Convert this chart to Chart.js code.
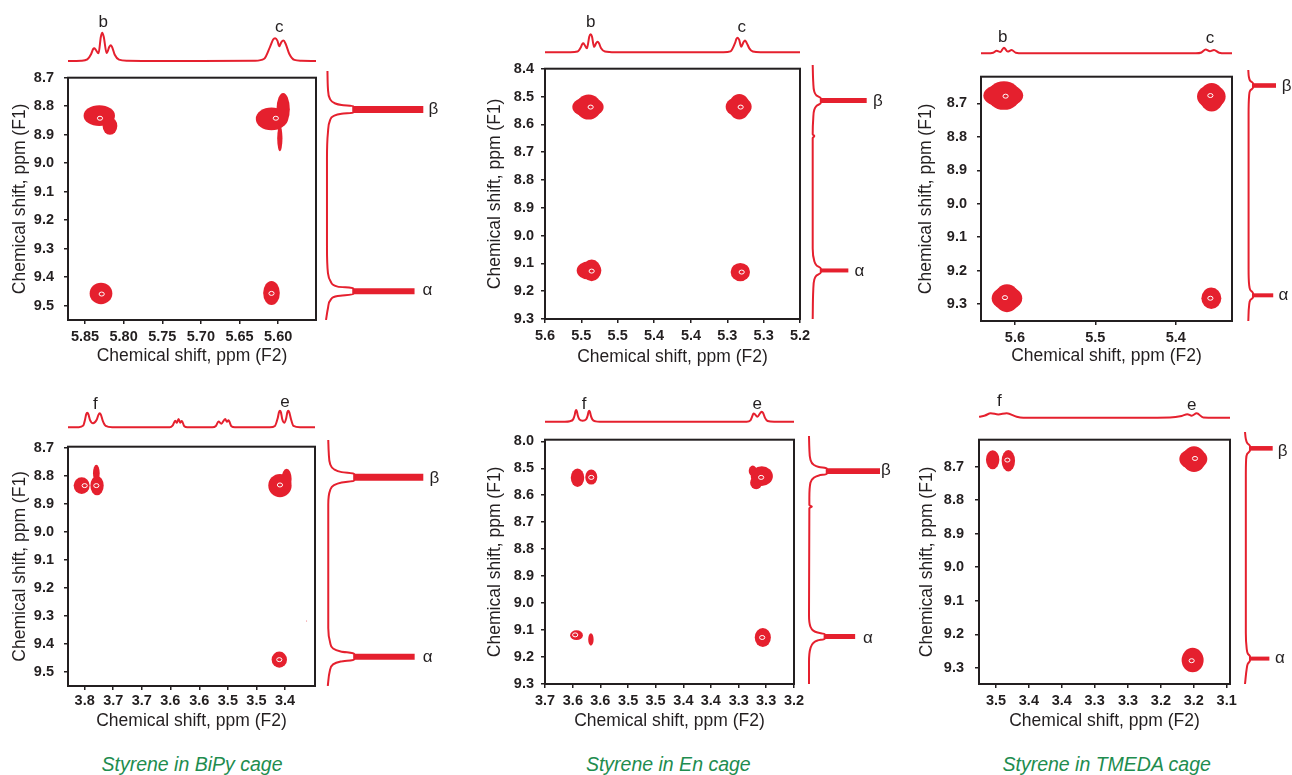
<!DOCTYPE html>
<html><head><meta charset="utf-8">
<script src="https://cdn.jsdelivr.net/npm/chart.js@4"></script>
<style>
html,body{margin:0;padding:0;background:#fff;width:1292px;height:775px;overflow:hidden;position:relative;font-family:'Liberation Sans',Arial,sans-serif;}
canvas{position:absolute;}
.lbl{position:absolute;transform:translate(-50%,-50%);font-size:17px;color:#231f20;white-space:nowrap;line-height:1;}
.cap{position:absolute;transform:translate(-50%,-50%);font-size:19.5px;font-style:italic;color:#218c4e;white-space:nowrap;line-height:1;}
</style></head><body>
<script>
// ---------------- DATA (ppm values) ----------------
const captions = ['Styrene in BiPy cage', 'Styrene in En cage', 'Styrene in TMEDA cage'];
const xTitle = 'Chemical shift, ppm (F2)';
const yTitle = 'Chemical shift, ppm (F1)';

// Panel 1 : BiPy, vinyl b/c
const p1XTicks = [5.85, 5.80, 5.75, 5.70, 5.65, 5.60];
const p1XLabels = ['5.85', '5.80', '5.75', '5.70', '5.65', '5.60'];
const p1YTicks = [8.7, 8.8, 8.9, 9.0, 9.1, 9.2, 9.3, 9.4, 9.5];
const p1YLabels = ['8.7', '8.8', '8.9', '9.0', '9.1', '9.2', '9.3', '9.4', '9.5'];
const p1XRange = [5.551, 5.872];
const p1YRange = [8.7, 9.55];
const p1Peaks = ['b', 'c', 'β', 'α'];
const p1Blobs = [[5.8315, 8.8331, 0.0203, 0.0364], [5.8177, 8.8696, 0.0095, 0.0307],
  [5.6086, 8.8445, 0.0203, 0.0398], [5.5935, 8.8104, 0.0086, 0.0569], [5.5978, 8.9128, 0.0034, 0.0455],
  [5.8293, 9.4568, 0.0147, 0.0376], [5.6086, 9.4556, 0.0108, 0.0421]];
const p1Cores = [[5.8306, 8.8422], [5.6030, 8.8422], [5.8284, 9.4590], [5.6086, 9.4567]];
const p1Top = [[5.872, 0], [5.855, 0.01], [5.847, 0.06], [5.842, 0.25], [5.8395, 0.42], [5.838, 0.45],
  [5.8362, 0.4], [5.8325, 0.27], [5.8295, 0.85], [5.8276, 1.0], [5.8257, 0.85], [5.822, 0.28], [5.8185, 0.5],
  [5.8168, 0.56], [5.815, 0.5], [5.8115, 0.22], [5.806, 0.05], [5.795, 0.01], [5.75, 0], [5.70, 0],
  [5.63, 0.01], [5.618, 0.08], [5.6105, 0.5], [5.6065, 0.76], [5.6039, 0.8], [5.601, 0.72], [5.5985, 0.52],
  [5.596, 0.66], [5.5931, 0.72], [5.5902, 0.6], [5.5855, 0.25], [5.579, 0.04], [5.57, 0.01], [5.551, 0]];
const p1Side = [[8.70, 0.015], [8.76, 0.02], [8.795, 0.04], [8.81, 0.09], [8.816, 0.16], [8.8195, 0.28],
  [8.8425, 0.28], [8.846, 0.16], [8.853, 0.08], [8.87, 0.04], [8.91, 0.02], [9.0, 0.01], [9.30, 0.01],
  [9.39, 0.02], [9.42, 0.05], [9.436, 0.12], [9.4415, 0.28], [9.4625, 0.28], [9.468, 0.12], [9.48, 0.05],
  [9.51, 0.02], [9.55, 0.0]];
const p1Bands = [[8.831, 0.28, 1.0], [9.452, 0.28, 0.91]];

// Panel 2 : En, vinyl b/c
const p2XTicks = [5.6, 5.543, 5.486, 5.429, 5.371, 5.314, 5.257, 5.2];
const p2XLabels = ['5.6', '5.5', '5.5', '5.4', '5.4', '5.3', '5.3', '5.2'];
const p2YTicks = [8.4, 8.5, 8.6, 8.7, 8.8, 8.9, 9.0, 9.1, 9.2, 9.3];
const p2YLabels = ['8.4', '8.5', '8.6', '8.7', '8.8', '8.9', '9.0', '9.1', '9.2', '9.3'];
const p2XRange = [5.2, 5.6];
const p2YRange = [8.4, 9.3];
const p2Peaks = ['b', 'c', 'β', 'α'];
const p2Blobs = [[5.5326, 8.538, 0.0246, 0.0354], [5.5316, 8.538, 0.0199, 0.0448],
  [5.2962, 8.5368, 0.0204, 0.0354], [5.2952, 8.5368, 0.0167, 0.046],
  [5.531, 9.1254, 0.0193, 0.033], [5.5268, 9.1254, 0.0146, 0.0389],
  [5.2936, 9.1313, 0.0152, 0.033]];
const p2Cores = [[5.5284, 8.538], [5.2931, 8.538], [5.5268, 9.1278], [5.2915, 9.1313]];
const p2Top = [[5.6, 0], [5.56, 0], [5.549, 0.04], [5.5435, 0.3], [5.5417, 0.45], [5.5399, 0.5], [5.538, 0.42],
  [5.5342, 0.22], [5.5305, 0.88], [5.5284, 1.0], [5.5263, 0.88], [5.5231, 0.3], [5.5195, 0.52], [5.5174, 0.59],
  [5.5153, 0.5], [5.512, 0.22], [5.506, 0.04], [5.49, 0], [5.32, 0], [5.309, 0.05], [5.3015, 0.55],
  [5.2998, 0.74], [5.2978, 0.81], [5.2955, 0.7], [5.2921, 0.31], [5.2885, 0.57], [5.2863, 0.65],
  [5.284, 0.55], [5.2795, 0.22], [5.274, 0.04], [5.262, 0], [5.2, 0]];
const p2Side = [[8.40, 0], [8.46, 0.01], [8.495, 0.03], [8.508, 0.07], [8.5174, 0.15], [8.535, 0.15],
  [8.545, 0.07], [8.558, 0.03], [8.59, 0.01], [8.645, 0.0], [8.652, 0.03], [8.659, 0.0], [9.05, 0],
  [9.095, 0.03], [9.11, 0.07], [9.121, 0.15], [9.135, 0.15], [9.146, 0.07], [9.16, 0.03], [9.20, 0.01], [9.30, 0]];
const p2Bands = [[8.5262, 0.15, 1.0], [9.128, 0.15, 0.66]];

// Panel 3 : TMEDA, vinyl b/c
const p3XTicks = [5.6, 5.5, 5.4];
const p3XLabels = ['5.6', '5.5', '5.4'];
const p3YTicks = [8.7, 8.8, 8.9, 9.0, 9.1, 9.2, 9.3];
const p3YLabels = ['8.7', '8.8', '8.9', '9.0', '9.1', '9.2', '9.3'];
const p3XRange = [5.33, 5.6422];
const p3YRange = [8.6204, 9.3505];
const p3Peaks = ['b', 'c', 'β', 'α'];
const p3Blobs = [[5.6145, 8.6767, 0.0248, 0.035], [5.6137, 8.6767, 0.0207, 0.0427],
  [5.3557, 8.6796, 0.0178, 0.035], [5.3553, 8.6816, 0.0149, 0.0427],
  [5.6099, 9.2825, 0.019, 0.035], [5.6099, 9.2825, 0.0157, 0.0417],
  [5.3557, 9.2825, 0.0124, 0.032]];
const p3Cores = [[5.6116, 8.6786], [5.3569, 8.6767], [5.6124, 9.2806], [5.3569, 9.2825]];
const p3Top = [[5.6422, 0], [5.635, 0], [5.627, 0.1], [5.6228, 0.47], [5.618, 0.25], [5.6137, 1.0],
  [5.609, 0.3], [5.6041, 0.59], [5.599, 0.1], [5.59, 0], [5.375, 0], [5.368, 0.15], [5.3627, 0.7],
  [5.3575, 0.35], [5.3524, 0.6], [5.346, 0.1], [5.338, 0], [5.33, 0]];
const p3Side = [[8.6204, 0.0], [8.64, 0.02], [8.652, 0.07], [8.6588, 0.17], [8.6722, 0.17], [8.68, 0.07],
  [8.695, 0.03], [8.75, 0.01], [9.20, 0.01], [9.245, 0.03], [9.26, 0.07], [9.2700, 0.17], [9.2817, 0.17],
  [9.29, 0.07], [9.305, 0.03], [9.3505, 0.0]];
const p3Bands = [[8.6655, 0.17, 1.0], [9.2758, 0.17, 0.9]];

// Panel 4 : BiPy, methylene e/f
const p4XTicks = [3.8, 3.743, 3.686, 3.629, 3.571, 3.514, 3.457, 3.4];
const p4XLabels = ['3.8', '3.7', '3.7', '3.6', '3.6', '3.5', '3.5', '3.4'];
const p4YTicks = [8.7, 8.8, 8.9, 9.0, 9.1, 9.2, 9.3, 9.4, 9.5];
const p4YLabels = ['8.7', '8.8', '8.9', '9.0', '9.1', '9.2', '9.3', '9.4', '9.5'];
const p4XRange = [3.34, 3.8333];
const p4YRange = [8.6965, 9.55];
const p4Peaks = ['f', 'e', 'β', 'α'];
const p4Blobs = [[3.806, 8.8353, 0.016, 0.030], [3.7753, 8.8353, 0.0133, 0.0347], [3.7767, 8.7913, 0.0067, 0.030],
  [3.41, 8.8353, 0.0233, 0.0416], [3.3967, 8.8121, 0.01, 0.037],
  [3.4113, 9.456, 0.0153, 0.0289], [3.3567, 9.3185, 0.001, 0.0017]];
const p4Cores = [[3.80, 8.8353], [3.7767, 8.8353], [3.41, 8.833], [3.4113, 9.456]];
const p4Top = [[3.8333, 0], [3.812, 0.01], [3.803, 0.1], [3.799, 0.5], [3.797, 0.78], [3.7947, 0.88],
  [3.7925, 0.78], [3.7895, 0.45], [3.7833, 0.24], [3.776, 0.45], [3.7725, 0.75], [3.770, 0.84], [3.7675, 0.75],
  [3.764, 0.4], [3.758, 0.08], [3.745, 0], [3.63, 0], [3.6245, 0.1], [3.619, 0.4], [3.616, 0.27],
  [3.6125, 0.5], [3.609, 0.28], [3.606, 0.38], [3.601, 0.06], [3.595, 0], [3.545, 0], [3.538, 0.08],
  [3.5327, 0.35], [3.527, 0.22], [3.5193, 0.5], [3.516, 0.33], [3.5127, 0.42], [3.507, 0.06], [3.50, 0],
  [3.43, 0], [3.42, 0.08], [3.4145, 0.55], [3.412, 0.9], [3.41, 1.0], [3.408, 0.9], [3.4055, 0.5],
  [3.4015, 0.28], [3.3975, 0.55], [3.3953, 0.9], [3.3933, 1.0], [3.3913, 0.9], [3.388, 0.5], [3.383, 0.08],
  [3.37, 0], [3.34, 0]];
const p4Side = [[8.6965, 0.01], [8.74, 0.015], [8.78, 0.03], [8.798, 0.07], [8.808, 0.15], [8.8138, 0.28],
  [8.838, 0.28], [8.844, 0.15], [8.853, 0.07], [8.87, 0.03], [8.92, 0.01], [9.35, 0.01], [9.40, 0.03],
  [9.42, 0.06], [9.43, 0.14], [9.4377, 0.28], [9.4585, 0.28], [9.465, 0.14], [9.475, 0.06], [9.50, 0.025],
  [9.55, 0.005]];
const p4Bands = [[8.8259, 0.28, 1.0], [9.4481, 0.28, 0.91]];

// Panel 5 : En, methylene e/f
const p5XTicks = [3.7, 3.644, 3.589, 3.533, 3.478, 3.422, 3.367, 3.311, 3.256, 3.2];
const p5XLabels = ['3.7', '3.6', '3.6', '3.5', '3.5', '3.4', '3.4', '3.3', '3.3', '3.2'];
const p5YTicks = [8.4, 8.5, 8.6, 8.7, 8.8, 8.9, 9.0, 9.1, 9.2, 9.3];
const p5YLabels = ['8.0', '8.5', '8.6', '8.7', '8.8', '8.9', '9.0', '9.1', '9.2', '9.3'];
const p5XRange = [3.2, 3.7];
const p5YRange = [8.394, 9.3];
const p5Peaks = ['f', 'e', 'β', 'α'];
const p5Blobs = [[3.6347, 8.535, 0.0135, 0.034], [3.6071, 8.5326, 0.0121, 0.028],
  [3.2646, 8.529, 0.0222, 0.0365], [3.276, 8.5533, 0.0121, 0.0243], [3.2828, 8.5095, 0.0081, 0.0195],
  [3.6367, 9.119, 0.0128, 0.0182], [3.6078, 9.1348, 0.0054, 0.0231], [3.2626, 9.1275, 0.0162, 0.0353]];
const p5Cores = [[3.6071, 8.5338], [3.266, 8.5338], [3.6394, 9.1178], [3.2639, 9.1275]];
const p5Top = [[3.7, 0], [3.66, 0], [3.65, 0.04], [3.6435, 0.2], [3.6405, 0.55], [3.6388, 0.9], [3.6374, 1.0],
  [3.636, 0.9], [3.6343, 0.55], [3.631, 0.2], [3.6243, 0.09], [3.6175, 0.2], [3.6143, 0.52], [3.6126, 0.85],
  [3.6112, 0.94], [3.6098, 0.85], [3.608, 0.52], [3.605, 0.2], [3.598, 0.03], [3.59, 0], [3.295, 0],
  [3.2875, 0.12], [3.2835, 0.5], [3.282, 0.66], [3.2807, 0.71], [3.279, 0.65], [3.2735, 0.43], [3.2675, 0.75],
  [3.2646, 0.86], [3.262, 0.75], [3.2585, 0.35], [3.253, 0.06], [3.24, 0], [3.2, 0]];
const p5Side = [[8.394, 0], [8.44, 0.005], [8.48, 0.02], [8.50, 0.07], [8.507, 0.14], [8.512, 0.25],
  [8.533, 0.25], [8.538, 0.14], [8.546, 0.07], [8.565, 0.02], [8.62, 0.005], [8.646, 0.005], [8.652, 0.04],
  [8.658, 0.005], [9.05, 0], [9.09, 0.02], [9.105, 0.06], [9.112, 0.12], [9.1175, 0.22], [9.1355, 0.22],
  [9.141, 0.12], [9.15, 0.06], [9.17, 0.02], [9.22, 0], [9.30, 0]];
const p5Bands = [[8.5225, 0.25, 1.0], [9.1265, 0.22, 0.65]];

// Panel 6 : TMEDA, methylene e/f
const p6XTicks = [3.5, 3.443, 3.386, 3.329, 3.271, 3.214, 3.157, 3.1];
const p6XLabels = ['3.5', '3.4', '3.4', '3.3', '3.3', '3.2', '3.2', '3.1'];
const p6YTicks = [8.7, 8.8, 8.9, 9.0, 9.1, 9.2, 9.3];
const p6YLabels = ['8.7', '8.8', '8.9', '9.0', '9.1', '9.2', '9.3'];
const p6XRange = [3.0942, 3.5295];
const p6YRange = [8.62, 9.348];
const p6Peaks = ['f', 'e', 'β', 'α'];
const p6Blobs = [[3.5058, 8.6797, 0.0116, 0.028], [3.4786, 8.6826, 0.0116, 0.0318],
  [3.1578, 8.6778, 0.0243, 0.0309], [3.1566, 8.6778, 0.0202, 0.0386],
  [3.159, 9.2767, 0.0191, 0.0366]];
const p6Cores = [[3.1549, 8.6759], [3.1607, 9.2786], [3.4803, 8.6807]];
const p6Top = [[3.5295, 0.2], [3.5191, 0.5], [3.5092, 1.0], [3.496, 0.75], [3.4815, 1.0], [3.4642, 0.2],
  [3.4526, 0], [3.25, 0], [3.1983, 0.05], [3.178, 0.4], [3.1682, 0.8], [3.1607, 0.45], [3.152, 1.0],
  [3.1405, 0.05], [3.12, 0], [3.0942, 0]];
const p6Side = [[8.62, 0], [8.64, 0.03], [8.652, 0.08], [8.6607, 0.18], [8.6737, 0.18], [8.683, 0.08],
  [8.70, 0.04], [8.75, 0.03], [9.20, 0.03], [9.245, 0.06], [9.26, 0.1], [9.2688, 0.18], [9.2804, 0.18],
  [9.29, 0.1], [9.305, 0.06], [9.348, 0]];
const p6Bands = [[8.6672, 0.18, 1.0], [9.2746, 0.18, 0.88]];

// ---------------- LAYOUT / STYLE (pixel geometry of each panel) ----------------
const RED = '#e5202e';
const INK = '#231f20';
const FAM = "'Liberation Sans', Arial, Helvetica, sans-serif";
const layoutCfg = [
  {l: 68, t: 71, r: 316, b: 320, yTitleX: 20.7, xTitleY: 356.7, yPad: 10, xPad: 4,
   topBase: 61, topPeak: 32.7, sideBase: 326, sideTip: 423.3, bandW: [7, 6],
   peakPos: [[103.3, 20.7], [279.3, 25.7], [433.3, 108.3], [427.3, 289.3]]},
  {l: 545, t: 65, r: 800, b: 319, yTitleX: 495, xTitleY: 357.3, yPad: 7, xPad: 4,
   topBase: 52.3, topPeak: 34.3, sideBase: 812.7, sideTip: 866.7, bandW: [5, 4],
   peakPos: [[590.7, 20.7], [741.7, 25.7], [878, 100], [859.3, 270]]},
  {l: 981, t: 70, r: 1232, b: 321, yTitleX: 926.7, xTitleY: 356.7, yPad: 10, xPad: 4,
   topBase: 53.3, topPeak: 47.7, sideBase: 1248.3, sideTip: 1276, bandW: [4.6, 4],
   peakPos: [[1002.7, 36], [1210, 36.7], [1286.7, 85], [1283.3, 294]]},
  {l: 68, t: 440, r: 315, b: 686, yTitleX: 20, xTitleY: 721.7, yPad: 10, xPad: 2,
   topBase: 427.3, topPeak: 410.7, sideBase: 327.3, sideTip: 423.3, bandW: [7, 6],
   peakPos: [[95.3, 402.7], [285, 400.7], [434.3, 477.3], [427.7, 656]]},
  {l: 545, t: 436, r: 794, b: 684, yTitleX: 495, xTitleY: 721.7, yPad: 7, xPad: 4,
   topBase: 421.7, topPeak: 410, sideBase: 809, sideTip: 880, bandW: [5.7, 5],
   peakPos: [[584, 403.3], [757.3, 402.7], [886, 469], [868, 636.7]]},
  {l: 979, t: 432, r: 1230, b: 684, yTitleX: 927.3, xTitleY: 721.7, yPad: 11, xPad: 4,
   topBase: 417.7, topPeak: 413.3, sideBase: 1245, sideTip: 1272.7, bandW: [4.6, 4],
   peakPos: [[999.3, 400], [1191.7, 404], [1282.7, 450], [1280, 657.3]]}
];
const captionPos = [[192, 765], [668.3, 765], [1106.7, 765]];

const panels = [
  {xt: p1XTicks, xl: p1XLabels, yt: p1YTicks, yl: p1YLabels, xr: p1XRange, yr: p1YRange, pk: p1Peaks, blobs: p1Blobs, cores: p1Cores, top: p1Top, side: p1Side, bands: p1Bands},
  {xt: p2XTicks, xl: p2XLabels, yt: p2YTicks, yl: p2YLabels, xr: p2XRange, yr: p2YRange, pk: p2Peaks, blobs: p2Blobs, cores: p2Cores, top: p2Top, side: p2Side, bands: p2Bands},
  {xt: p3XTicks, xl: p3XLabels, yt: p3YTicks, yl: p3YLabels, xr: p3XRange, yr: p3YRange, pk: p3Peaks, blobs: p3Blobs, cores: p3Cores, top: p3Top, side: p3Side, bands: p3Bands},
  {xt: p4XTicks, xl: p4XLabels, yt: p4YTicks, yl: p4YLabels, xr: p4XRange, yr: p4YRange, pk: p4Peaks, blobs: p4Blobs, cores: p4Cores, top: p4Top, side: p4Side, bands: p4Bands},
  {xt: p5XTicks, xl: p5XLabels, yt: p5YTicks, yl: p5YLabels, xr: p5XRange, yr: p5YRange, pk: p5Peaks, blobs: p5Blobs, cores: p5Cores, top: p5Top, side: p5Side, bands: p5Bands},
  {xt: p6XTicks, xl: p6XLabels, yt: p6YTicks, yl: p6YLabels, xr: p6XRange, yr: p6YRange, pk: p6Peaks, blobs: p6Blobs, cores: p6Cores, top: p6Top, side: p6Side, bands: p6Bands}
];

// ---------------- PLUGINS ----------------
const blobPlugin = {
  id: 'blobs',
  afterDatasetsDraw(chart) {
    const ctx = chart.ctx, xs = chart.scales.x, ys = chart.scales.y;
    chart.data.datasets.forEach((ds, di) => {
      if (!ds._kind) return;
      const meta = chart.getDatasetMeta(di);
      ds.data.forEach((d, i) => {
        const el = meta.data[i];
        ctx.save();
        ctx.beginPath();
        if (ds._kind === 'blob') {
          const rx = Math.abs(xs.getPixelForValue(d.x + d.rx) - el.x);
          const ry = Math.abs(ys.getPixelForValue(d.y + d.ry) - el.y);
          ctx.ellipse(el.x, el.y, rx, ry, 0, 0, Math.PI * 2);
          ctx.fillStyle = RED; ctx.fill();
        } else {
          ctx.ellipse(el.x, el.y, 2.6, 2, 0, 0, Math.PI * 2);
          ctx.strokeStyle = '#ffffff'; ctx.lineWidth = 1; ctx.stroke();
        }
        ctx.restore();
      });
    });
  }
};
const framePlugin = {
  id: 'frame',
  afterDraw(chart) {
    const a = chart.chartArea, ctx = chart.ctx;
    ctx.save(); ctx.strokeStyle = INK; ctx.lineWidth = 2;
    ctx.strokeRect(a.left, a.top, a.right - a.left, a.bottom - a.top);
    ctx.restore();
  }
};

function makeCtx(left, top, w, h) {
  const c = document.createElement('canvas');
  c.width = Math.round(w); c.height = Math.round(h);
  c.style.left = Math.round(left) + 'px'; c.style.top = Math.round(top) + 'px';
  c.style.width = c.width + 'px'; c.style.height = c.height + 'px';
  document.body.appendChild(c);
  return c;
}
function addText(cls, txt, x, y) {
  const d = document.createElement('div');
  d.className = cls; d.textContent = txt;
  d.style.left = x + 'px'; d.style.top = y + 'px';
  document.body.appendChild(d);
}
const noPlug = {legend: {display: false}, tooltip: {enabled: false}};
const tickFont = {family: FAM, size: 14.5, weight: 'bold'};
const titleFont = {family: FAM, size: 17.5};
const TITLE_OFF = 4 + 17.5 * 1.2 / 2;

panels.forEach((P, k) => {
  const G = layoutCfg[k];
  const PT = 12, PR = 22;
  // ---- main 2D correlation map ----
  const left = Math.round(G.yTitleX - TITLE_OFF);
  const yW = G.l - left;
  const bottom = Math.round(G.xTitleY + TITLE_OFF);
  const xH = bottom - G.b;
  const cv = makeCtx(left, G.t - PT, yW + (G.r - G.l) + PR, PT + (G.b - G.t) + xH);
  new Chart(cv, {
    type: 'scatter',
    data: {datasets: [
      {_kind: 'blob', data: P.blobs.map(b => ({x: b[0], y: b[1], rx: b[2], ry: b[3]})), pointRadius: 0},
      {_kind: 'core', data: P.cores.map(c => ({x: c[0], y: c[1]})), pointRadius: 0}
    ]},
    options: {
      responsive: false, animation: false, events: [],
      layout: {padding: {top: PT, right: PR, left: 0, bottom: 0}},
      plugins: noPlug,
      scales: {
        x: {type: 'linear', reverse: true, min: P.xr[0], max: P.xr[1],
          afterBuildTicks: s => { s.ticks = P.xt.map(v => ({value: v})); },
          afterFit: s => { s.height = xH; },
          ticks: {callback: (v, i) => P.xl[i], font: tickFont, color: INK, padding: G.xPad, autoSkip: false, maxRotation: 0},
          grid: {display: true, drawOnChartArea: false, drawTicks: true, tickLength: 4, color: INK, lineWidth: 1.5},
          border: {display: false},
          title: {display: true, text: xTitle, font: titleFont, color: INK, padding: {top: 4, bottom: 4}}},
        y: {type: 'linear', reverse: true, min: P.yr[0], max: P.yr[1],
          afterBuildTicks: s => { s.ticks = P.yt.map(v => ({value: v})); },
          afterFit: s => { s.width = yW; },
          ticks: {callback: (v, i) => P.yl[i], font: tickFont, color: INK, padding: G.yPad, autoSkip: false},
          grid: {display: true, drawOnChartArea: false, drawTicks: true, tickLength: 4, color: INK, lineWidth: 1.5},
          border: {display: false},
          title: {display: true, text: yTitle, font: titleFont, color: INK, padding: {top: 4, bottom: 4}}}
      }
    },
    plugins: [blobPlugin, framePlugin]
  });

  // ---- top (F2) projection ----
  const tTop = Math.round(G.topPeak - 6), tBot = Math.round(G.topBase + 6);
  const tH = tBot - tTop;
  const a = G.topBase - tTop, c = G.topPeak - tTop;
  const yRangeT = tH / (a - c), yMaxT = a / (a - c);
  const cvT = makeCtx(G.l, tTop, G.r - G.l, tH);
  new Chart(cvT, {
    type: 'line',
    data: {datasets: [{data: P.top.map(p => ({x: p[0], y: p[1]})), borderColor: RED, borderWidth: 2,
      pointRadius: 0, cubicInterpolationMode: 'monotone', fill: false}]},
    options: {responsive: false, animation: false, events: [], layout: {padding: 0}, plugins: noPlug,
      scales: {x: {type: 'linear', display: false, reverse: true, min: P.xr[0], max: P.xr[1]},
               y: {type: 'linear', display: false, min: yMaxT - yRangeT, max: yMaxT}}}
  });

  // ---- side (F1) projection ----
  const sL = Math.round(G.sideBase - 6), sR = Math.round(G.sideTip + 8);
  const sW = sR - sL;
  const sa = G.sideBase - sL, sc = G.sideTip - sL;
  const xRangeS = sW / (sc - sa), xMinS = -sa / (sc - sa);
  const cvS = makeCtx(sL, G.t, sW, G.b - G.t);
  const sideSets = [{data: P.side.map(p => ({x: p[1], y: p[0]})), borderColor: RED, borderWidth: 2,
    pointRadius: 0, cubicInterpolationMode: 'monotone', fill: false}];
  P.bands.forEach((bd, j) => {
    sideSets.push({data: [{x: bd[1], y: bd[0]}, {x: bd[2], y: bd[0]}], borderColor: RED,
      borderWidth: G.bandW[j], borderCapStyle: 'butt', pointRadius: 0, tension: 0, fill: false});
  });
  new Chart(cvS, {
    type: 'line',
    data: {datasets: sideSets},
    options: {indexAxis: 'y', responsive: false, animation: false, events: [], layout: {padding: 0}, plugins: noPlug,
      scales: {x: {type: 'linear', display: false, min: xMinS, max: xMinS + xRangeS},
               y: {type: 'linear', display: false, reverse: true, min: P.yr[0], max: P.yr[1]}}}
  });

  // ---- peak assignment labels ----
  P.pk.forEach((t, j) => addText('lbl', t, G.peakPos[j][0], G.peakPos[j][1]));
});
captions.forEach((t, i) => addText('cap', t, captionPos[i][0], captionPos[i][1]));
</script>
</body></html>
